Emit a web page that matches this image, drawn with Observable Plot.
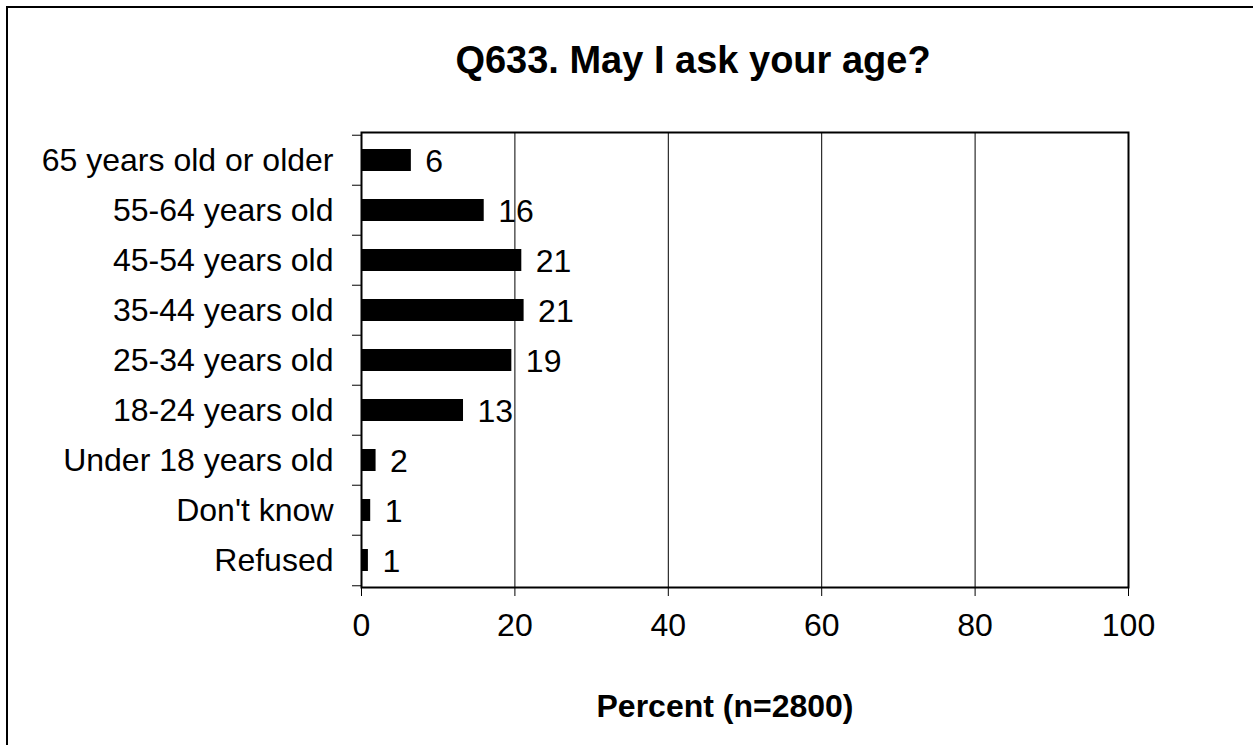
<!DOCTYPE html>
<html>
<head>
<meta charset="utf-8">
<script src="https://cdn.jsdelivr.net/npm/d3@7"></script>
<script src="https://cdn.jsdelivr.net/npm/@observablehq/plot@0.6"></script>
<style>
  html, body { margin: 0; padding: 0; background: #fff; overflow: hidden; }
  #page { position: relative; width: 1253px; height: 745px; overflow: hidden; font-family: "Liberation Sans", Arial, sans-serif; color: #000; }
  #border { position: absolute; left: 6px; top: 6px; width: 1300px; height: 800px; border-left: 2px solid #000; border-top: 2px solid #000; }
  #title { position: absolute; left: 393px; width: 600px; top: 41px; text-align: center; font-size: 38px; font-weight: bold; line-height: 38px; white-space: nowrap; }
  #xtitle { position: absolute; left: 525px; width: 400px; top: 690px; text-align: center; font-size: 32px; font-weight: bold; line-height: 32px; white-space: nowrap; }
  #chart { position: absolute; left: 0; top: 0; }
</style>
</head>
<body>
<div id="page">
  <div id="border"></div>
  <div id="chart"></div>
  <div id="title"></div>
  <div id="xtitle"></div>
</div>
<script>
const title = "Q633. May I ask your age?";
const xTitle = "Percent (n=2800)";
const categories = ["65 years old or older", "55-64 years old", "45-54 years old", "35-44 years old", "25-34 years old", "18-24 years old", "Under 18 years old", "Don't know", "Refused"];
const values = [6.5, 16.0, 20.9, 21.2, 19.6, 13.3, 1.9, 1.2, 0.9];
const valueLabels = ["6", "16", "21", "21", "19", "13", "2", "1", "1"];
const xTicks = [0, 20, 40, 60, 80, 100];
const gridTicks = [20, 40, 60, 80];

const data = categories.map((c, i) => ({category: c, value: values[i], label: valueLabels[i]}));

const W = 1253, H = 745;
const mTop = 132, mBottom = 158, mLeft = 361, mRight = 125;
const step = (H - mTop - mBottom) / categories.length;
const font = "Liberation Sans, Arial, sans-serif";

document.getElementById("title").textContent = title;
document.getElementById("xtitle").textContent = xTitle;

const chart = Plot.plot({
  width: W, height: H,
  marginTop: mTop, marginBottom: mBottom, marginLeft: mLeft, marginRight: mRight,
  style: {fontSize: "32px", fontFamily: font, color: "#000", background: "transparent", overflow: "visible"},
  x: {domain: [0, 100], label: null},
  y: {domain: categories, paddingInner: 0.56, paddingOuter: 0.28, label: null},
  marks: [
    Plot.ruleX(gridTicks, {stroke: "#000", strokeWidth: 1}),
    Plot.barX(data, {x: "value", y: "category", fill: "#000"}),
    Plot.text(data, {x: "value", y: "category", text: "label", textAnchor: "start", dx: 14, dy: 1, fontSize: 32, fill: "#000"}),
    Plot.axisX({ticks: xTicks, tickSize: 9, tickPadding: 17, label: null, fontSize: 32, stroke: "#000"}),
    Plot.axisY({tickSize: 0, tickPadding: 28, label: null, fontSize: 32}),
    Plot.ruleY(categories, {y: d => d, x1: 0, x2: 0, insetLeft: -9, dy: -step / 2, stroke: "#000"}),
    Plot.ruleY(categories.slice(-1), {y: d => d, x1: 0, x2: 0, insetLeft: -9, dy: step / 2, stroke: "#000"}),
    Plot.frame({stroke: "#000", strokeWidth: 2})
  ]
});
document.getElementById("chart").appendChild(chart);
</script>
</body>
</html>
